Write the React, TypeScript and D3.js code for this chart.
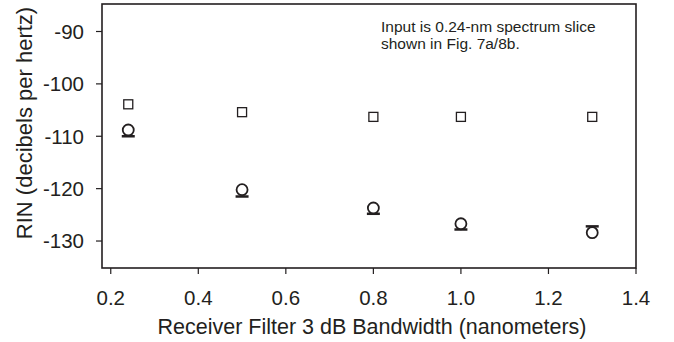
import React from "react";
import * as d3 from "d3";

const bandwidths = [0.24, 0.5, 0.8, 1.0, 1.3];
const squareSeries = [-103.9, -105.4, -106.3, -106.3, -106.3];
const circleSeries = [-108.8, -120.2, -123.7, -126.7, -128.4];
const dashSeries = [-110.0, -121.5, -124.8, -127.8, -127.2];
const xTicks = [0.2, 0.4, 0.6, 0.8, 1.0, 1.2, 1.4];
const yTicks = [-90, -100, -110, -120, -130];
const noteLines = ["Input is 0.24-nm spectrum slice", "shown in Fig. 7a/8b."];

const W = 674;
const H = 342;
const left = 102;
const right = 636;
const top = 4;
const bottom = 268;
const ink = "#231f20";
const font = "Arial, 'Liberation Sans', sans-serif";

export default function App() {
  const x = d3.scaleLinear().domain([0.18, 1.4]).range([left, right]);
  const y = d3.scaleLinear().domain([-135.15, -84.75]).range([bottom, top]);
  return (
    <svg width={W} height={H} style={{ position: "absolute", left: 0, top: 0 }}>
      <rect x={0} y={0} width={W} height={H} fill="#fff" />
      <rect x={left} y={top} width={right - left} height={bottom - top} fill="none" stroke={ink} strokeWidth={1.6} />
      {yTicks.map((t) => (
        <g key={"y" + t}>
          <line x1={left - 6} x2={left} y1={y(t)} y2={y(t)} stroke={ink} strokeWidth={1.2} />
          <text x={84} y={y(t)} dy="0.36em" textAnchor="end" fontFamily={font} fontSize={20.5} fill={ink}>
            {t}
          </text>
        </g>
      ))}
      {xTicks.map((t) => (
        <g key={"x" + t}>
          <line x1={x(t)} x2={x(t)} y1={bottom} y2={bottom + 6} stroke={ink} strokeWidth={1.2} />
          <text x={x(t)} y={304.5} textAnchor="middle" fontFamily={font} fontSize={20.5} fill={ink}>
            {t.toFixed(1)}
          </text>
        </g>
      ))}
      <text x={372} y={334} textAnchor="middle" fontFamily={font} fontSize={21.5} fill={ink}>
        Receiver Filter 3 dB Bandwidth (nanometers)
      </text>
      <text
        transform={`translate(32, 123) rotate(-90)`}
        textAnchor="middle"
        fontFamily={font}
        fontSize={22}
        fill={ink}
      >
        RIN (decibels per hertz)
      </text>
      {noteLines.map((l, i) => (
        <text key={l} x={381} y={31.5 + i * 17.5} fontFamily={font} fontSize={15.5} fill={ink}>
          {l}
        </text>
      ))}
      {bandwidths.map((b, i) => (
        <line
          key={"d" + i}
          x1={x(b) - 6.5}
          x2={x(b) + 6.5}
          y1={y(dashSeries[i])}
          y2={y(dashSeries[i])}
          stroke={ink}
          strokeWidth={2.5}
        />
      ))}
      {bandwidths.map((b, i) => (
        <circle key={"c" + i} cx={x(b)} cy={y(circleSeries[i])} r={5.5} fill="#fff" stroke={ink} strokeWidth={1.8} />
      ))}
      {bandwidths.map((b, i) => (
        <rect
          key={"s" + i}
          x={x(b) - 4.5}
          y={y(squareSeries[i]) - 4.5}
          width={9}
          height={9}
          fill="#fff"
          stroke={ink}
          strokeWidth={1.3}
        />
      ))}
    </svg>
  );
}
